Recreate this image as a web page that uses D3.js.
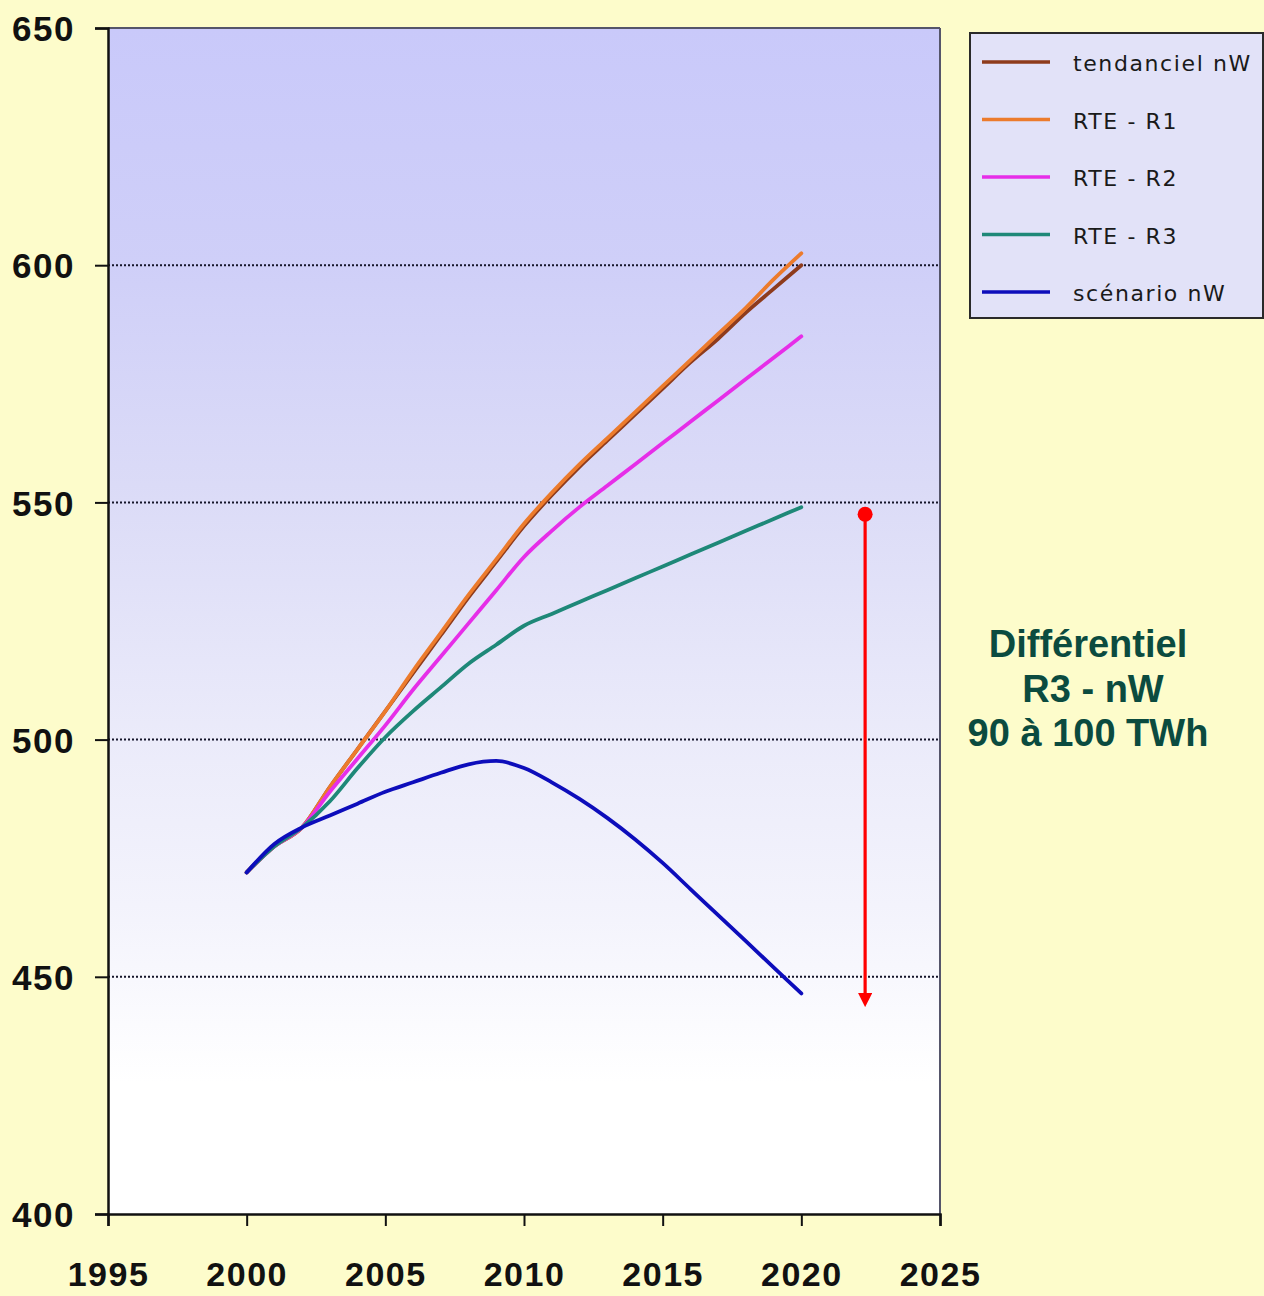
<!DOCTYPE html>
<html><head><meta charset="utf-8">
<script src="https://cdn.jsdelivr.net/npm/d3@7"></script>
<style>html,body{margin:0;padding:0;background:#fdfccb;}svg{display:block;}</style>
</head><body>
<svg id="chart" width="1264" height="1296"></svg>
<script>
const years = [2000,2001,2002,2003,2004,2005,2006,2007,2008,2009,2010,2011,2012,2013,2014,2015,2016,2017,2018,2019,2020];
const tendanciel = [472,477.5,481.5,490,498,506,514,522,530,537.5,545,551.5,557.5,563,568.5,574,579.5,584.5,590,595,600];
const rteR1 = [472,477.5,481.5,490,498,506,514.5,522.5,530.5,538,545.5,552,558,563.5,569,574.5,580,585.5,591,597,602.5];
const rteR2 = [472,477.5,481.5,489,496,503,510.5,517.5,524.5,531.5,538.5,544,549,553.5,558,562.5,567,571.5,576,580.5,585];
const rteR3 = [472,477.5,481.5,487,494,500.5,506,511,516,520,524,526.5,529,531.5,534,536.5,539,541.5,544,546.5,549];
const scenario = [472,478,481.5,484,486.5,489,491,493,494.8,495.5,494,491,487.5,483.5,479,474,468.5,463,457.5,452,446.5];
const seriesNames = ["tendanciel nW","RTE - R1","RTE - R2","RTE - R3","scénario nW"];
const seriesColors = ["#8e3b1c","#ec7b2c","#e62ee8","#1e8878","#0d0dbb"];
const xTicks = [1995,2000,2005,2010,2015,2020,2025];
const yTicks = [400,450,500,550,600,650];
const gridValues = [450,500,550,600];
const noteLines = ["Différentiel","R3 - nW","90 à 100 TWh"];
const arrowRange = [547.5,443.5];
const arrowYear = 2022.3;

const svg = d3.select("#chart");
const x = d3.scaleLinear().domain([1995,2025]).range([108,940]);
const y = d3.scaleLinear().domain([400,650]).range([1214,28]);

const defs = svg.append("defs");
const grad = defs.append("linearGradient").attr("id","bg").attr("x1",0).attr("y1",0).attr("x2",0).attr("y2",1);
[[0,"#c9c9fa"],[0.2,"#cfcff8"],[0.4,"#dcdcf7"],[0.6,"#ebebfa"],[0.74,"#f3f3fc"],[0.89,"#ffffff"],[1,"#ffffff"]]
  .forEach(([o,c])=>grad.append("stop").attr("offset",o).attr("stop-color",c));

svg.append("rect").attr("x",0).attr("y",0).attr("width",1264).attr("height",1296).attr("fill","#fdfccb");
svg.append("rect").attr("x",x(1995)).attr("y",y(650)).attr("width",x(2025)-x(1995)).attr("height",y(400)-y(650)).attr("fill","url(#bg)");

// grid
svg.append("g").selectAll("line").data(gridValues).join("line")
  .attr("x1",x(1995)).attr("x2",x(2025)).attr("y1",d=>y(d)).attr("y2",d=>y(d))
  .attr("stroke","#15152a").attr("stroke-width",2).attr("stroke-dasharray","2,2");

// border top/right
svg.append("line").attr("x1",x(1995)).attr("x2",x(2025)).attr("y1",y(650)).attr("y2",y(650)).attr("stroke","#55556a").attr("stroke-width",2);
svg.append("line").attr("x1",x(2025)).attr("x2",x(2025)).attr("y1",y(650)).attr("y2",y(400)).attr("stroke","#55556a").attr("stroke-width",2);

// axes
const yAxis = d3.axisLeft(y).tickValues(yTicks).tickSize(13).tickPadding(20).tickFormat(d3.format("d"));
const gy = svg.append("g").attr("transform",`translate(${x(1995)},0)`).call(yAxis);
const xAxis = d3.axisBottom(x).tickValues(xTicks).tickSize(12).tickPadding(36).tickFormat(d3.format("d"));
const gx = svg.append("g").attr("transform",`translate(0,${y(400)})`).call(xAxis);
[gx,gy].forEach(g=>{
  g.select(".domain").attr("stroke","#111").attr("stroke-width",2.5);
  g.selectAll(".tick line").attr("stroke","#111").attr("stroke-width",2);
  g.selectAll(".tick text").attr("fill","#111").attr("font-family","'Liberation Sans',Arial,sans-serif")
    .attr("font-weight","bold").attr("font-size",35).attr("letter-spacing",1.5);
});
gy.selectAll(".tick text").attr("dy","0.36em");
gx.selectAll(".tick text").attr("dy","0.71em").attr("font-size",34);

// lines
const allSeries = [tendanciel,rteR1,rteR2,rteR3,scenario];
const line = d3.line().x((d,i)=>x(years[i])).y(d=>y(d)).curve(d3.curveMonotoneX);
svg.append("g").selectAll("path").data(allSeries).join("path")
  .attr("d",d=>line(d)).attr("fill","none")
  .attr("stroke",(d,i)=>seriesColors[i]).attr("stroke-width",3.8)
  .attr("stroke-linejoin","round").attr("stroke-linecap","round");

// arrow
defs.append("marker").attr("id","ah").attr("viewBox","0 0 10 10").attr("refX",2).attr("refY",5)
  .attr("markerWidth",4.5).attr("markerHeight",4.5).attr("markerUnits","strokeWidth").attr("orient","auto")
  .append("path").attr("d","M0,0 L10,5 L0,10 z").attr("fill","#ff0000");
svg.append("line").attr("x1",x(arrowYear)).attr("x2",x(arrowYear))
  .attr("y1",y(arrowRange[0])).attr("y2",y(arrowRange[1])-12)
  .attr("stroke","#ff0000").attr("stroke-width",3.2).attr("marker-end","url(#ah)");
svg.append("circle").attr("cx",x(arrowYear)).attr("cy",y(arrowRange[0])).attr("r",7.5).attr("fill","#ff0000");

// annotation
svg.append("g").selectAll("text").data(noteLines).join("text")
  .attr("x",(d,i)=>i===1?1093:1088).attr("y",(d,i)=>657+i*44.5)
  .attr("text-anchor","middle").attr("font-family","'Liberation Sans',Arial,sans-serif")
  .attr("font-weight","bold").attr("font-size",38).attr("fill","#0b4b3f").text(d=>d);

// legend
const lg = svg.append("g");
lg.append("rect").attr("x",970).attr("y",33).attr("width",293).attr("height",285)
  .attr("fill","#e2e2f8").attr("stroke","#2a2a2a").attr("stroke-width",2);
const rows = lg.selectAll("g.row").data(seriesNames).join("g").attr("class","row")
  .attr("transform",(d,i)=>`translate(0,${62+i*57.5})`);
rows.append("line").attr("x1",982).attr("x2",1050).attr("y1",0).attr("y2",0)
  .attr("stroke",(d,i)=>seriesColors[i]).attr("stroke-width",3.5);
rows.append("text").attr("x",1073).attr("y",9).attr("font-family","'DejaVu Sans',Verdana,sans-serif")
  .attr("font-size",22).attr("letter-spacing",1.6).attr("fill","#1a1a1a").text(d=>d);
</script>
</body></html>
